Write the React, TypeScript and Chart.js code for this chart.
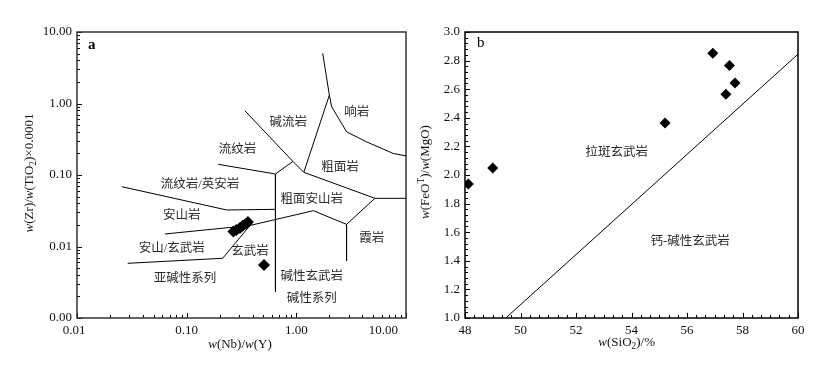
import React, { useEffect, useRef } from 'react';
import { Chart, registerables } from 'chart.js';
Chart.register(...registerables);

// ---------- Panel a: Zr/TiO2 vs Nb/Y ----------
const nbY = [0.267, 0.284, 0.306, 0.326, 0.348, 0.362, 0.507];
const zrTi = [0.0162, 0.017, 0.0182, 0.0197, 0.0207, 0.022, 0.00551];

const lineUpperRight: number[][] = [[1.74, 5.04], [2.0, 1.31], [2.1, 0.9], [2.88, 0.4], [4.39, 0.29], [7.66, 0.2], [10, 0.185]];
const lineComenditeLeft: number[][] = [[0.34, 0.79], [0.93, 0.155], [1.17, 0.109]];
const lineComenditeRight: number[][] = [[2.0, 1.31], [1.17, 0.109]];
const lineTrachyte: number[][] = [[1.17, 0.109], [5.21, 0.0472], [10, 0.0472]];
const lineRhyoliteBase: number[][] = [[0.194, 0.141], [0.645, 0.1033], [0.93, 0.155]];
const lineAlkaliDivide: number[][] = [[0.645, 0.1033], [0.645, 0.00233]];
const lineRhyodacite: number[][] = [[0.0256, 0.0686], [0.232, 0.0324], [0.645, 0.0331]];
const lineAndesite: number[][] = [[0.0634, 0.01496], [0.378, 0.0197], [1.43, 0.0317], [2.87, 0.0204], [5.21, 0.0472]];
const lineFoidite: number[][] = [[2.87, 0.0204], [2.87, 0.00627]];
const lineSubalkaline: number[][] = [[0.029, 0.00582], [0.213, 0.00684], [0.378, 0.0197]];

const regionNamesA = ['碱流岩', '响岩', '流纹岩', '粗面岩', '流纹岩/英安岩', '粗面安山岩', '安山岩', '霞岩', '安山/玄武岩', '玄武岩', '亚碱性系列', '碱性玄武岩', '碱性系列'];
const regionXA = [0.845, 3.55, 0.29, 2.5, 0.1324, 1.38, 0.0901, 4.86, 0.0731, 0.378, 0.0966, 1.38, 1.38];
const regionYA = [0.54, 0.743, 0.229, 0.1265, 0.0725, 0.0457, 0.0267, 0.01274, 0.00923, 0.00845, 0.00351, 0.00379, 0.001845];

const xTickValsA = [0.01, 0.1, 1, 10];
const xTickLabelsA = ['0.01', '0.10', '1.00', '10.00'];
const yTickValsA = [0.001, 0.01, 0.1, 1, 10];
const yTickLabelsA = ['0.00', '0.01', '0.10', '1.00', '10.00'];

// ---------- Panel b: FeOT/MgO vs SiO2 ----------
const sio2 = [48.12, 49.0, 55.21, 56.93, 57.53, 57.4, 57.73];
const feoMgo = [1.937, 2.049, 2.363, 2.851, 2.765, 2.565, 2.644];
const boundaryB: number[][] = [[49.47, 1.0], [60, 2.845]];

const regionNamesB = ['拉斑玄武岩', '钙-碱性玄武岩'];
const regionXB = [53.47, 56.11];
const regionYB = [2.154, 1.534];

const xTickValsB = [48, 50, 52, 54, 56, 58, 60];
const xTickLabelsB = ['48', '50', '52', '54', '56', '58', '60'];
const yTickValsB = [1.0, 1.2, 1.4, 1.6, 1.8, 2.0, 2.2, 2.4, 2.6, 2.8, 3.0];
const yTickLabelsB = ['1.0', '1.2', '1.4', '1.6', '1.8', '2.0', '2.2', '2.4', '2.6', '2.8', '3.0'];

const SERIF = '"Liberation Serif", "Noto Sans CJK SC", serif';

type Seg = { t: string; i?: boolean; sub?: boolean; sup?: boolean };

function drawRich(ctx: CanvasRenderingContext2D, segs: Seg[], cx: number, cy: number, size: number, rotate: boolean) {
  ctx.save();
  ctx.translate(cx, cy);
  if (rotate) ctx.rotate(-Math.PI / 2);
  const fontFor = (s: Seg) => `${s.i ? 'italic ' : ''}${s.sub || s.sup ? size * 0.72 : size}px ${SERIF}`;
  let w = 0;
  for (const s of segs) { ctx.font = fontFor(s); w += ctx.measureText(s.t).width; }
  let x = -w / 2;
  ctx.textBaseline = 'middle';
  ctx.textAlign = 'left';
  ctx.fillStyle = '#111';
  for (const s of segs) {
    ctx.font = fontFor(s);
    const dy = s.sub ? size * 0.3 : s.sup ? -size * 0.38 : 0;
    ctx.fillText(s.t, x, dy);
    x += ctx.measureText(s.t).width;
  }
  ctx.restore();
}

const pts = (arr: number[][]) => arr.map(([x, y]) => ({ x, y }));
const lineDs = (arr: number[][]) => ({
  data: pts(arr), showLine: true, pointRadius: 0, borderColor: '#000', borderWidth: 1, fill: false, tension: 0,
});

type Spec = {
  log: boolean;
  xMinor: number[]; xMajor: number[]; yMinor: number[]; yMajor: number[];
  xTickVals: number[]; xTickLabels: string[]; yTickVals: number[]; yTickLabels: string[];
  lastXRight?: boolean;
  xTitle: Seg[]; yTitle: Seg[]; xTitlePos: [number, number]; yTitleX: number; yTitleY: number;
  names: string[]; nx: number[]; ny: number[];
  letter: string; letterBold: boolean; letterPos: [number, number];
  frameColor: string;
};

function makeDecor(spec: Spec) {
  return {
    id: 'decor',
    beforeDatasetsDraw(chart: any) {
      const ctx: CanvasRenderingContext2D = chart.ctx;
      const xs = chart.scales.x, ys = chart.scales.y;
      const a = chart.chartArea;
      ctx.save();
      ctx.strokeStyle = '#000';
      ctx.lineWidth = 1;
      ctx.beginPath();
      for (const v of spec.xMinor) { const p = Math.round(xs.getPixelForValue(v)) + 0.5; ctx.moveTo(p, a.bottom); ctx.lineTo(p, a.bottom - 3); }
      for (const v of spec.xMajor) { const p = Math.round(xs.getPixelForValue(v)) + 0.5; ctx.moveTo(p, a.bottom); ctx.lineTo(p, a.bottom - 5); }
      for (const v of spec.yMinor) { const p = Math.round(ys.getPixelForValue(v)) + 0.5; ctx.moveTo(a.left, p); ctx.lineTo(a.left + 3, p); }
      for (const v of spec.yMajor) { const p = Math.round(ys.getPixelForValue(v)) + 0.5; ctx.moveTo(a.left, p); ctx.lineTo(a.left + 5, p); }
      ctx.stroke();
      ctx.strokeStyle = spec.frameColor;
      ctx.lineWidth = 1.5;
      ctx.strokeRect(a.left, a.top, a.right - a.left, a.bottom - a.top);
      ctx.restore();
    },
    afterDatasetsDraw(chart: any) {
      const ctx: CanvasRenderingContext2D = chart.ctx;
      const xs = chart.scales.x, ys = chart.scales.y;
      const a = chart.chartArea;
      ctx.save();
      ctx.fillStyle = '#111';
      ctx.font = `13px ${SERIF}`;
      ctx.textBaseline = 'middle';
      spec.xTickVals.forEach((v, i) => {
        const p = xs.getPixelForValue(v);
        if (spec.lastXRight && i === spec.xTickVals.length - 1) { ctx.textAlign = 'right'; ctx.fillText(spec.xTickLabels[i], p - 8, a.bottom + 13); }
        else { ctx.textAlign = 'center'; ctx.fillText(spec.xTickLabels[i], p - (spec.log && i === 0 ? 3 : 0), a.bottom + 13); }
      });
      ctx.textAlign = 'right';
      spec.yTickVals.forEach((v, i) => {
        ctx.fillText(spec.yTickLabels[i], a.left - 5, ys.getPixelForValue(v));
      });
      drawRich(ctx, spec.xTitle, spec.xTitlePos[0], spec.xTitlePos[1], 13, false);
      drawRich(ctx, spec.yTitle, spec.yTitleX, spec.yTitleY, 13, true);
      ctx.fillStyle = '#2a2a2a';
      ctx.font = `12.5px ${SERIF}`;
      ctx.textAlign = 'center';
      spec.names.forEach((n, i) => {
        ctx.fillText(n, xs.getPixelForValue(spec.nx[i]), ys.getPixelForValue(spec.ny[i]));
      });
      ctx.fillStyle = '#000';
      ctx.font = `${spec.letterBold ? 'bold ' : ''}15px ${SERIF}`;
      ctx.textAlign = 'left';
      ctx.fillText(spec.letter, spec.letterPos[0], spec.letterPos[1]);
      ctx.restore();
    },
  };
}

function logMinor(min: number, max: number) {
  const out: number[] = [];
  for (let d = Math.floor(Math.log10(min)); d <= Math.ceil(Math.log10(max)); d++) {
    for (let m = 2; m <= 9; m++) { const v = m * Math.pow(10, d); if (v > min && v < max) out.push(v); }
  }
  return out;
}

function linTicks(min: number, max: number, step: number, every: number) {
  const minor: number[] = [], major: number[] = [];
  const n = Math.round((max - min) / step);
  for (let k = 0; k <= n; k++) { const v = min + k * step; (k % every === 0 ? major : minor).push(v); }
  return { minor, major };
}

export default function App() {
  const refA = useRef<HTMLCanvasElement>(null);
  const refB = useRef<HTMLCanvasElement>(null);

  useEffect(() => {
    const common = {
      responsive: false, maintainAspectRatio: false, animation: false as const,
      plugins: { legend: { display: false }, tooltip: { enabled: false } },
    };
    const hidden = { ticks: { display: false }, grid: { display: false, drawTicks: false }, border: { display: false } };

    const specA: Spec = {
      log: true,
      xMinor: logMinor(0.01, 10), xMajor: xTickValsA, yMinor: logMinor(0.001, 10), yMajor: yTickValsA,
      xTickVals: xTickValsA, xTickLabels: xTickLabelsA, yTickVals: yTickValsA, yTickLabels: yTickLabelsA,
      lastXRight: true,
      xTitle: [{ t: 'w', i: true }, { t: '(Nb)/' }, { t: 'w', i: true }, { t: '(Y)' }],
      yTitle: [{ t: 'w', i: true }, { t: '(Zr)/' }, { t: 'w', i: true }, { t: '(TiO' }, { t: '2', sub: true }, { t: ')×0.0001' }],
      xTitlePos: [240, 345], yTitleX: 30, yTitleY: 173,
      names: regionNamesA, nx: regionXA, ny: regionYA,
      letter: 'a', letterBold: true, letterPos: [88, 45],
      frameColor: '#333',
    };
    const chartA = new Chart(refA.current!, {
      type: 'scatter',
      data: {
        datasets: [
          { data: nbY.map((x, i) => ({ x, y: zrTi[i] })), pointStyle: 'rectRot', pointRadius: 6, backgroundColor: '#000', borderColor: '#000', borderWidth: 0 } as any,
          lineDs(lineUpperRight), lineDs(lineComenditeLeft), lineDs(lineComenditeRight), lineDs(lineTrachyte),
          lineDs(lineRhyoliteBase), lineDs(lineAlkaliDivide), lineDs(lineRhyodacite), lineDs(lineAndesite),
          lineDs(lineFoidite), lineDs(lineSubalkaline),
        ],
      },
      options: {
        ...common,
        layout: { padding: { left: 0, right: 8, top: 32, bottom: 0 } },
        scales: {
          x: { type: 'logarithmic', min: 0.01, max: 10, ...hidden, afterFit: (s: any) => { s.height = 50; } },
          y: { type: 'logarithmic', min: 0.001, max: 10, ...hidden, afterFit: (s: any) => { s.width = 77; } },
        },
      } as any,
      plugins: [makeDecor(specA)],
    });

    const xb = linTicks(48, 60, 1 / 3, 6);
    const yb = linTicks(1, 3, 0.04, 5);
    const specB: Spec = {
      log: false,
      xMinor: xb.minor, xMajor: xb.major, yMinor: yb.minor, yMajor: yb.major,
      xTickVals: xTickValsB, xTickLabels: xTickLabelsB, yTickVals: yTickValsB, yTickLabels: yTickLabelsB,
      xTitle: [{ t: 'w', i: true }, { t: '(SiO' }, { t: '2', sub: true }, { t: ')/%' }],
      yTitle: [{ t: 'w', i: true }, { t: '(FeO' }, { t: 'T', sup: true }, { t: ')/' }, { t: 'w', i: true }, { t: '(MgO)' }],
      xTitlePos: [626.7 - 414, 343], yTitleX: 426 - 414, yTitleY: 172,
      names: regionNamesB, nx: regionXB, ny: regionYB,
      letter: 'b', letterBold: false, letterPos: [477 - 414, 43],
      frameColor: '#000',
    };
    const chartB = new Chart(refB.current!, {
      type: 'scatter',
      data: {
        datasets: [
          { data: sio2.map((x, i) => ({ x, y: feoMgo[i] })), pointStyle: 'rectRot', pointRadius: 5.5, backgroundColor: '#000', borderColor: '#000', borderWidth: 0 } as any,
          lineDs(boundaryB),
        ],
      },
      options: {
        ...common,
        layout: { padding: { left: 0, right: 30, top: 32, bottom: 0 } },
        scales: {
          x: { type: 'linear', min: 48, max: 60, ...hidden, afterFit: (s: any) => { s.height = 50; } },
          y: { type: 'linear', min: 1, max: 3, ...hidden, afterFit: (s: any) => { s.width = 51; } },
        },
      } as any,
      plugins: [makeDecor(specB)],
    });

    return () => { chartA.destroy(); chartB.destroy(); };
  }, []);

  return (
    <div style={{ position: 'absolute', left: 0, top: 0, width: 828, height: 368, background: '#fff' }}>
      <canvas ref={refA} width={414} height={368} style={{ position: 'absolute', left: 0, top: 0, width: 414, height: 368 }} />
      <canvas ref={refB} width={414} height={368} style={{ position: 'absolute', left: 414, top: 0, width: 414, height: 368 }} />
    </div>
  );
}
